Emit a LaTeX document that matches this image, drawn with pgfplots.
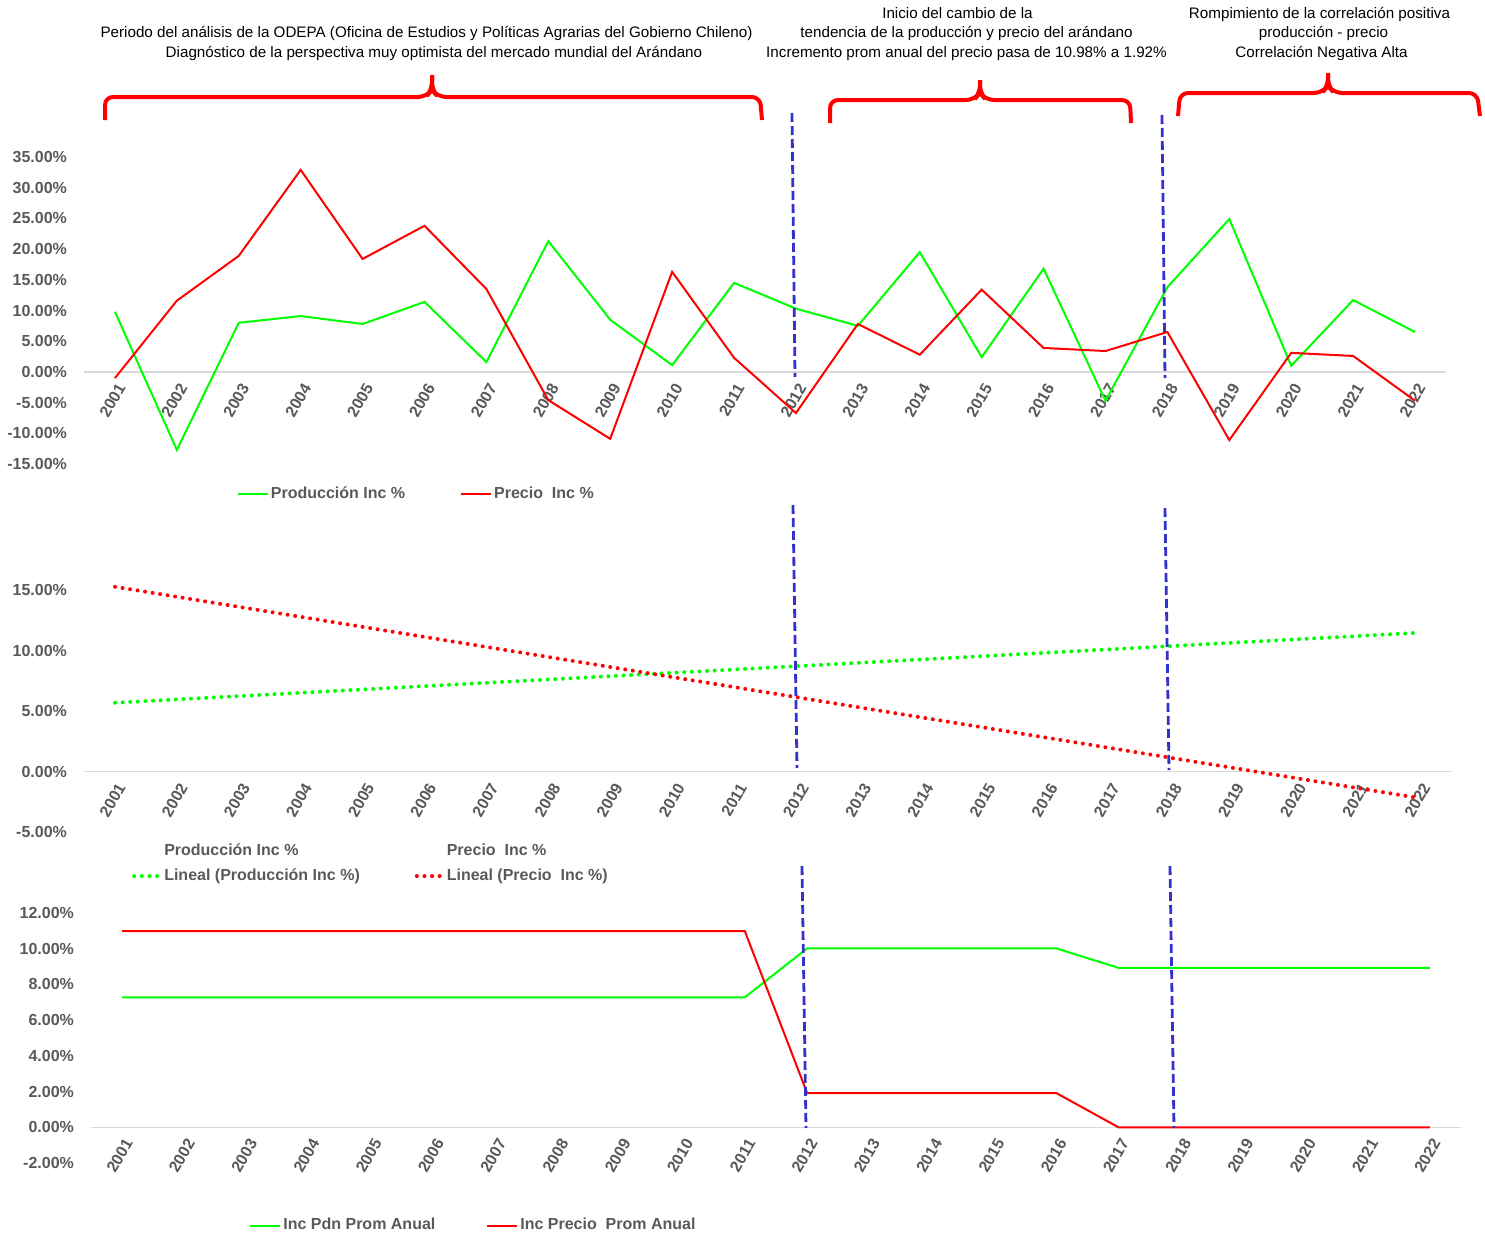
\documentclass[border=0pt]{standalone}
\usepackage{pgfplots}
\pgfplotsset{compat=1.18}
\usepackage{fontspec}
\setmainfont{Liberation Sans}

\definecolor{verde}{RGB}{0,255,0}
\definecolor{rojo}{RGB}{255,0,0}
\definecolor{azul}{RGB}{51,51,204}
\definecolor{gristxt}{RGB}{89,89,89}
\definecolor{cero}{RGB}{217,217,217}

\newcommand{\tlfont}{\fontsize{8}{9.6}\selectfont\bfseries}
\newcommand{\notefont}{\fontsize{7.6}{9.75}\selectfont}

% series (valores en %)
\pgfplotstableread{
x prod precio
0 9.8 -1.0
1 -12.7 11.6
2 8.0 18.9
3 9.1 32.9
4 7.8 18.4
5 11.4 23.8
6 1.6 13.5
7 21.3 -4.6
8 8.5 -10.9
9 1.1 16.3
10 14.5 2.3
11 10.3 -6.7
12 7.5 7.8
13 19.5 2.8
14 2.4 13.4
15 16.8 3.9
16 -4.7 3.4
17 13.8 6.5
18 24.9 -11.1
19 1.0 3.1
20 11.7 2.6
21 6.5 -4.7
}\incanual

\pgfplotstableread{
x prod precio
0 5.7 15.3
21 11.5 -2.2
}\tendencia

\pgfplotstableread{
x pdn precio
0 7.28 10.98
1 7.28 10.98
2 7.28 10.98
3 7.28 10.98
4 7.28 10.98
5 7.28 10.98
6 7.28 10.98
7 7.28 10.98
8 7.28 10.98
9 7.28 10.98
10 7.28 10.98
11 10.02 1.92
12 10.02 1.92
13 10.02 1.92
14 10.02 1.92
15 10.02 1.92
16 8.93 0.0
17 8.93 0.0
18 8.93 0.0
19 8.93 0.0
20 8.93 0.0
21 8.93 0.0
}\promanual

\pgfplotsset{
  tramo/.style={
    scale only axis,
    anchor=south west,
    clip=false,
    xmin=-0.5, xmax=21.5,
    xtick={0,...,21},
    xticklabels={2001,2002,2003,2004,2005,2006,2007,2008,2009,2010,2011,2012,2013,2014,2015,2016,2017,2018,2019,2020,2021,2022},
    separate axis lines,
    axis x line=middle,
    axis y line=left,
    x axis line style={-, draw=cero, line width=0.75pt},
    y axis line style={draw=none},
    major tick length=0pt,
    hide obscured x ticks=false,
    hide obscured y ticks=false,
    /pgf/number format/assume math mode=true,
    tick label style={font=\tlfont, text=gristxt},
    x tick label style={rotate=60, anchor=east, xshift=-0.5pt, yshift=-6pt},
    y tick label style={anchor=east, xshift=-5pt},
    yticklabel={\pgfmathprintnumber[fixed,fixed zerofill,precision=2]{\tick}\%},
    legend columns=2,
    legend cell align=left,
    legend style={draw=none, fill=none, inner sep=0pt, font=\tlfont, text=gristxt,
      nodes={inner sep=1pt}},
    legend image code/.code={\draw[#1] (0pt,0pt) -- (15pt,0pt);},
  },
  serie/.style={line width=1pt, no markers},
  trend/.style={line width=2pt, line cap=round, dash pattern=on 0pt off 3.8pt, no markers},
}

\begin{document}
\begin{tikzpicture}
\path[use as bounding box] (0,0) rectangle (742.5pt,-618.5pt);

% grafico 1: incremento anual
\begin{axis}[tramo,
  at={(42pt,-232pt)}, width=681pt, height=153.5pt,
  ymin=-15, ymax=35, ytick={-15,-10,...,35},
  legend style={at={(axis description cs:0.112,-0.098)}, anchor=west,
    /tikz/every even column/.append style={column sep=26.5pt}},
]
\addplot[serie, verde] table[x=x, y=prod] {\incanual};
\addlegendentry{Producción Inc \%}
\addplot[serie, rojo] table[x=x, y=precio] {\incanual};
\addlegendentry{Precio\ \ Inc \%}
\end{axis}

% grafico 2: tendencias lineales
\begin{axis}[tramo,
  at={(42pt,-416pt)}, width=683.5pt, height=151pt,
  ymin=-5, ymax=20, ytick={-5,0,5,10,15},
  legend style={at={(axis description cs:0.035,-0.105)}, anchor=west,
    row sep=3pt,
    /tikz/every even column/.append style={column sep=26.5pt}},
  legend image code/.code={\draw[#1] (0pt,0pt) -- (13pt,0pt);},
]
\addlegendimage{empty legend}
\addlegendentry{Producción Inc \%}
\addlegendimage{empty legend}
\addlegendentry{Precio\ \ Inc \%}
\addplot[trend, verde] table[x=x, y=prod] {\tendencia};
\addlegendentry{Lineal (Producción Inc \%)}
\addplot[trend, rojo] table[x=x, y=precio] {\tendencia};
\addlegendentry{Lineal (Precio\ \ Inc \%)}
\end{axis}

% grafico 3: promedios anuales
\begin{axis}[tramo,
  at={(45.5pt,-581.5pt)}, width=685pt, height=125pt,
  ymin=-2, ymax=12, ytick={-2,0,...,12},
  legend style={at={(axis description cs:0.1153,-0.25)}, anchor=west,
    /tikz/every even column/.append style={column sep=24.5pt}},
]
\addplot[serie, verde] table[x=x, y=pdn] {\promanual};
\addlegendentry{Inc Pdn Prom Anual}
\addplot[serie, rojo] table[x=x, y=precio] {\promanual};
\addlegendentry{Inc Precio\ \ Prom Anual}
\end{axis}

\begin{scope}[x=0.5pt,y=-0.5pt]
  % textos
  \node[font=\notefont, anchor=base, inner sep=0pt] at (426.5,37) {Periodo del análisis de la ODEPA (Oficina de Estudios y Políticas Agrarias del Gobierno Chileno)};
  \node[font=\notefont, anchor=base, inner sep=0pt] at (434,57) {Diagnóstico de la perspectiva muy optimista del mercado mundial del Arándano};
  \node[font=\notefont, anchor=base, inner sep=0pt] at (957.5,18) {Inicio del cambio de la};
  \node[font=\notefont, anchor=base, inner sep=0pt] at (966.5,37) {tendencia de la producción y precio del arándano};
  \node[font=\notefont, anchor=base, inner sep=0pt] at (966.5,57) {Incremento prom anual del precio pasa de 10.98\% a 1.92\%};
  \node[font=\notefont, anchor=base, inner sep=0pt] at (1319.5,18) {Rompimiento de la correlación positiva};
  \node[font=\notefont, anchor=base, inner sep=0pt] at (1323.5,37) {producción - precio};
  \node[font=\notefont, anchor=base, inner sep=0pt] at (1321.5,57) {Correlación Negativa Alta};

  % llaves
  \begin{scope}[rojo, line width=2pt, rounded corners=4pt]
    \draw (105,120) -- (105,97) -- (426,97) -- (432,90) -- (432,75);
    \draw (432,75) -- (432,90) -- (438,97) -- (760,97) -- (762,120);
    \draw (830,123) -- (830,100) -- (974,100) -- (980,93) -- (980,80);
    \draw (980,80) -- (980,93) -- (986,100) -- (1130,100) -- (1131,123);
    \draw (1178,116) -- (1180,93) -- (1322,93) -- (1328,86) -- (1328,73);
    \draw (1328,73) -- (1328,86) -- (1334,93) -- (1477,93) -- (1480,116);
  \end{scope}

  % lineas divisorias
  \begin{scope}[azul, line width=1.4pt, dash pattern=on 4.5pt off 2pt]
    \draw (792,113) -- (795,377);
    \draw (1162,115) -- (1165,378);
    \draw (793,505) -- (797,768);
    \draw (1165,508) -- (1169,770);
    \draw (802,866) -- (806,1128);
    \draw (1170,866) -- (1174,1128);
  \end{scope}
\end{scope}
\end{tikzpicture}
\end{document}
